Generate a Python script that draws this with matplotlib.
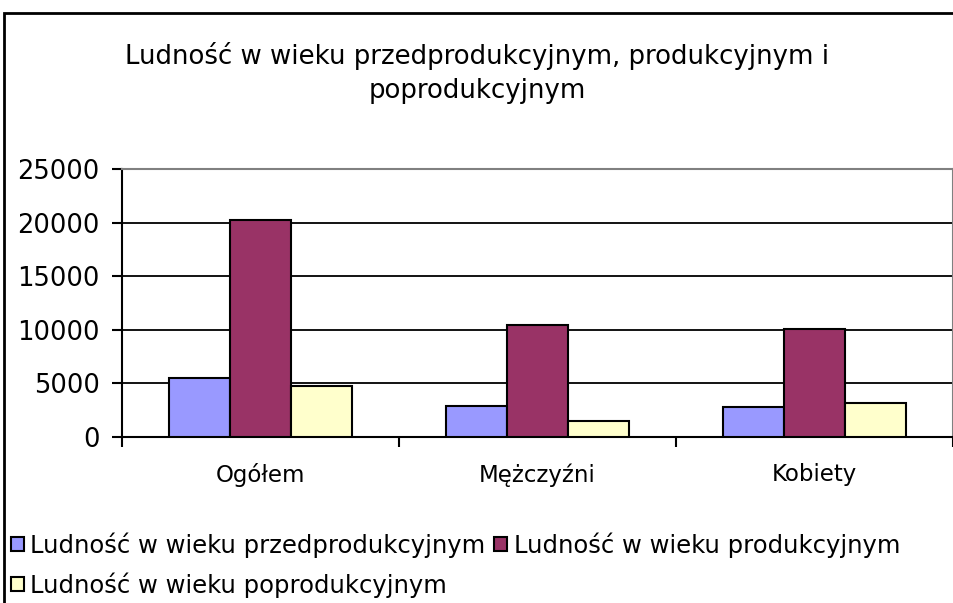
import numpy as np
import matplotlib
matplotlib.use("Agg")
import matplotlib.pyplot as plt
from matplotlib.patches import Rectangle

categories = ["Ogółem", "Mężczyźni", "Kobiety"]
series_names = [
    "Ludność w wieku przedprodukcyjnym",
    "Ludność w wieku produkcyjnym",
    "Ludność w wieku poprodukcyjnym",
]
przedprodukcyjny = [5540, 2930, 2770]
produkcyjny = [20280, 10420, 10050]
poprodukcyjny = [4760, 1460, 3140]
y_ticks = [0, 5000, 10000, 15000, 20000, 25000]

colors = ["#9999FF", "#993366", "#FFFFCC"]
title = "Ludność w wieku przedprodukcyjnym, produkcyjnym i\npoprodukcyjnym"

plt.rcParams["font.family"] = ["DejaVu Sans"]

fig = plt.figure(figsize=(9.54, 6.03), dpi=100)
ax = fig.add_axes([122 / 954, 166 / 603, 831 / 954, 268 / 603])

# outer chart border (continues past the right and bottom edges)
fig.patches.append(Rectangle((4 / 954, -0.1), 1.2, (603 - 13) / 603 + 0.1,
                             transform=fig.transFigure, fill=False,
                             edgecolor="black", linewidth=2))

x = np.arange(len(categories))
width = 0.22
data = [przedprodukcyjny, produkcyjny, poprodukcyjny]
handles = []
for i, (vals, name, c) in enumerate(zip(data, series_names, colors)):
    h = ax.bar(x + (i - 1) * width, vals, width, color=c, edgecolor="black",
               linewidth=1.5, label=name, zorder=3)
    handles.append(h)

ax.set_xlim(-0.5, 2.5)
ax.set_ylim(0, 25000)
ax.set_yticks(y_ticks)
ax.set_yticklabels([str(v) for v in y_ticks], fontsize=18.5)
ax.yaxis.grid(True, color="black", linewidth=1.3, zorder=0)
ax.set_xticks(x)
ax.set_xticklabels(categories, fontsize=16.5)
ax.tick_params(axis="x", which="major", length=0, pad=19)
ax.set_xticks([-0.5, 0.5, 1.5, 2.5], minor=True)
ax.tick_params(axis="x", which="minor", length=7, width=1.5, direction="out")
ax.tick_params(axis="y", length=7, width=1.5, direction="out", pad=9)

for s in ["left", "bottom"]:
    ax.spines[s].set_color("black")
    ax.spines[s].set_linewidth(1.5)
for s in ["top", "right"]:
    ax.spines[s].set_color("#808080")
    ax.spines[s].set_linewidth(1.5)

fig.text(0.5, 1 - 73 / 603, title, ha="center", va="center", fontsize=18.7,
         linespacing=1.45)

order = [0, 2, 1]
leg = fig.legend([handles[i] for i in order], [series_names[i] for i in order],
                 ncol=2, loc="upper left", bbox_to_anchor=(11 / 954, 1 - 532 / 603),
                 frameon=False, fontsize=17.5, handlelength=0.55, handleheight=0.55,
                 handletextpad=0.25, columnspacing=0.35, labelspacing=0.6,
                 borderaxespad=0, borderpad=0)

fig.savefig("out.png", dpi=100)
